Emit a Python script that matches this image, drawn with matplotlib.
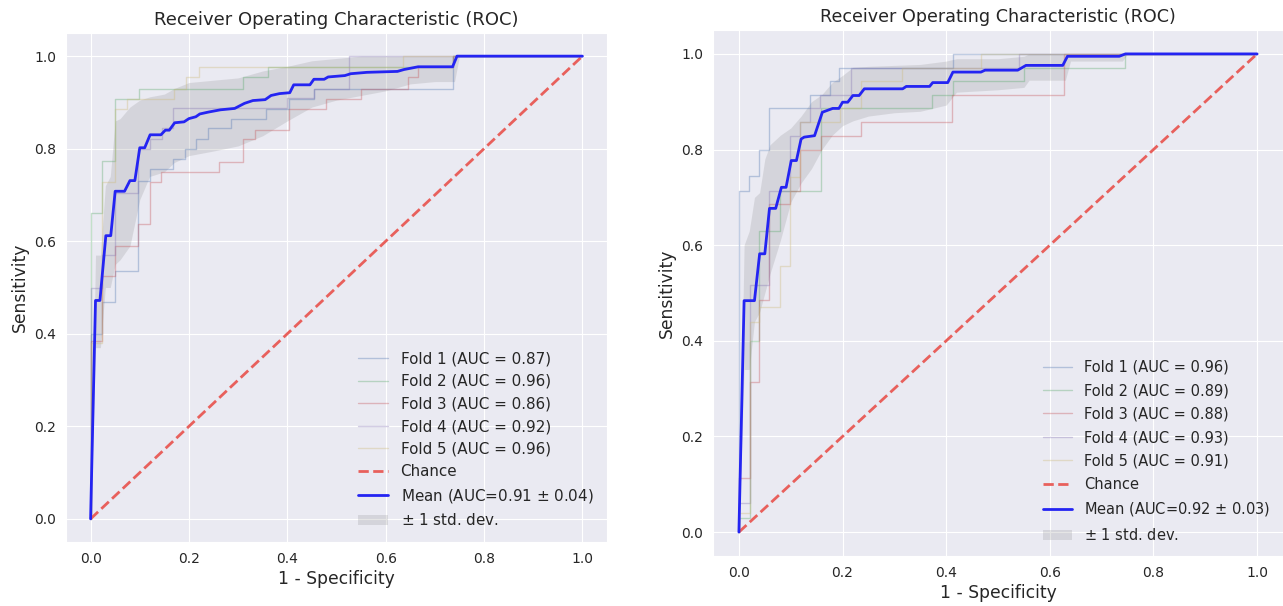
import numpy as np
import matplotlib
matplotlib.use("Agg")
import matplotlib.pyplot as plt
import seaborn as sns

# ---- left panel data ----
# fold curves: points at the top of each ROC jump (drawn as steps)
left_fold_fpr = [
    [0, 0, 0.023, 0.05, 0.096, 0.12, 0.167, 0.191, 0.215, 0.238, 0.286, 0.357, 0.404, 0.455, 0.736, 1.0],
    [0, 0, 0.023, 0.05, 0.098, 0.31, 0.36, 0.736, 1.0],
    [0, 0, 0.023, 0.05, 0.096, 0.12, 0.144, 0.262, 0.31, 0.335, 0.404, 0.478, 0.55, 0.645, 0.666, 0.736, 1.0],
    [0, 0, 0.023, 0.05, 0.096, 0.12, 0.145, 0.167, 0.40, 0.455, 0.525, 1.0],
    [0, 0, 0.023, 0.05, 0.075, 0.17, 0.195, 0.22, 0.635, 1.0],
]
left_fold_tpr = [
    [0, 0.40, 0.468, 0.535, 0.731, 0.756, 0.778, 0.80, 0.82, 0.844, 0.864, 0.885, 0.908, 0.93, 1.0, 1.0],
    [0, 0.66, 0.774, 0.908, 0.93, 0.955, 0.976, 1.0, 1.0],
    [0, 0.385, 0.525, 0.59, 0.637, 0.727, 0.749, 0.772, 0.82, 0.84, 0.885, 0.908, 0.93, 0.955, 0.976, 1.0, 1.0],
    [0, 0.50, 0.57, 0.705, 0.80, 0.82, 0.845, 0.887, 0.91, 0.93, 1.0, 1.0],
    [0, 0.38, 0.727, 0.885, 0.908, 0.93, 0.955, 0.976, 1.0, 1.0],
]
left_fold_auc = [0.87, 0.96, 0.86, 0.92, 0.96]
left_mean_fpr = [0, 0.010, 0.019, 0.031, 0.041, 0.05, 0.069, 0.08, 0.09, 0.10, 0.11, 0.121, 0.143, 0.152,
                 0.16, 0.171, 0.19, 0.2, 0.214, 0.222, 0.239, 0.264, 0.293, 0.313, 0.33, 0.355, 0.367, 0.384,
                 0.405, 0.413, 0.446, 0.454, 0.475, 0.483, 0.517, 0.529, 0.562, 0.624, 0.637, 0.666, 0.736,
                 0.745, 1.0]
left_mean_tpr = [0, 0.472, 0.472, 0.612, 0.612, 0.708, 0.708, 0.731, 0.731, 0.802, 0.802, 0.83, 0.83, 0.84,
                 0.84, 0.856, 0.858, 0.865, 0.869, 0.875, 0.879, 0.884, 0.887, 0.898, 0.904, 0.906, 0.915,
                 0.919, 0.921, 0.938, 0.938, 0.95, 0.95, 0.955, 0.958, 0.962, 0.965, 0.967, 0.971, 0.977,
                 0.977, 1.0, 1.0]
left_band_fpr = [0.0, 0.01, 0.02, 0.03, 0.04, 0.05, 0.06, 0.08, 0.1, 0.12, 0.15, 0.17, 0.2, 0.25, 0.3,
                 0.35, 0.4, 0.45, 0.5, 0.55, 0.6, 0.65, 0.7, 0.74, 0.75, 1.0]
left_band_upper = [0.0, 0.57, 0.57, 0.72, 0.74, 0.86, 0.865, 0.89, 0.905, 0.912, 0.918, 0.93, 0.943, 0.948,
                   0.953, 0.968, 0.978, 0.99, 0.995, 1.0, 1.0, 1.0, 1.0, 1.0, 1.0, 1.0]
left_band_lower = [0.0, 0.37, 0.37, 0.50, 0.50, 0.55, 0.56, 0.59, 0.69, 0.74, 0.75, 0.77, 0.785, 0.795,
                   0.806, 0.828, 0.86, 0.89, 0.905, 0.915, 0.925, 0.94, 0.945, 0.945, 1.0, 1.0]
left_mean_label = "Mean (AUC=0.91 $\\pm$ 0.04)"

# ---- right panel data ----
right_fold_fpr = [
    [0, 0, 0.019, 0.039, 0.058, 0.138, 0.175, 0.194, 0.413, 1.0],
    [0, 0, 0.021, 0.039, 0.079, 0.159, 0.373, 0.413, 0.55, 0.746, 1.0],
    [0, 0, 0.021, 0.039, 0.059, 0.098, 0.118, 0.159, 0.236, 0.412, 0.628, 1.0],
    [0, 0, 0.021, 0.059, 0.098, 0.118, 0.137, 0.157, 0.216, 0.54, 1.0],
    [0, 0, 0.021, 0.039, 0.079, 0.098, 0.118, 0.196, 0.236, 0.314, 0.467, 1.0],
]
right_fold_tpr = [
    [0, 0.714, 0.744, 0.80, 0.886, 0.914, 0.943, 0.971, 1.0, 1.0],
    [0, 0.03, 0.40, 0.63, 0.714, 0.886, 0.914, 0.943, 0.971, 1.0, 1.0],
    [0, 0.114, 0.314, 0.486, 0.686, 0.714, 0.80, 0.829, 0.857, 0.914, 1.0, 1.0],
    [0, 0.06, 0.516, 0.714, 0.829, 0.857, 0.886, 0.914, 0.971, 1.0, 1.0],
    [0, 0.04, 0.44, 0.471, 0.557, 0.743, 0.857, 0.886, 0.943, 0.971, 1.0, 1.0],
]
right_fold_auc = [0.96, 0.89, 0.88, 0.93, 0.91]
right_mean_fpr = [0, 0.010, 0.030, 0.040, 0.050, 0.059, 0.071, 0.082, 0.091, 0.101, 0.111, 0.120, 0.126,
                  0.146, 0.161, 0.181, 0.193, 0.200, 0.210, 0.220, 0.232, 0.242, 0.316, 0.323, 0.368, 0.374,
                  0.403, 0.413, 0.467, 0.475, 0.538, 0.554, 0.625, 0.634, 0.734, 0.746, 1.0]
right_mean_tpr = [0, 0.484, 0.484, 0.582, 0.582, 0.677, 0.677, 0.721, 0.721, 0.777, 0.777, 0.822, 0.826,
                  0.829, 0.878, 0.886, 0.886, 0.899, 0.899, 0.913, 0.913, 0.927, 0.927, 0.932, 0.932, 0.94,
                  0.94, 0.962, 0.962, 0.966, 0.966, 0.976, 0.976, 0.995, 0.995, 1.0, 1.0]
right_band_fpr = [0.0, 0.01, 0.02, 0.03, 0.04, 0.05, 0.06, 0.08, 0.1, 0.12, 0.14, 0.16, 0.18, 0.2, 0.22,
                  0.25, 0.3, 0.35, 0.4, 0.42, 0.5, 0.55, 0.56, 0.63, 0.64, 0.74, 0.75, 1.0]
right_band_upper = [0.0, 0.60, 0.63, 0.70, 0.71, 0.78, 0.81, 0.83, 0.845, 0.87, 0.90, 0.915, 0.94, 0.955,
                    0.972, 0.974, 0.976, 0.978, 0.985, 0.99, 0.99, 0.995, 1.0, 1.0, 1.0, 1.0, 1.0, 1.0]
right_band_lower = [0.0, 0.34, 0.34, 0.44, 0.46, 0.50, 0.54, 0.61, 0.69, 0.73, 0.76, 0.80, 0.83, 0.85,
                    0.86, 0.87, 0.877, 0.88, 0.893, 0.92, 0.925, 0.93, 0.945, 0.945, 0.985, 0.985, 1.0, 1.0]
right_mean_label = "Mean (AUC=0.92 $\\pm$ 0.03)"

fold_colors = ["#4C72B0", "#55A868", "#C44E52", "#8172B2", "#CCB974"]

sns.set_style("darkgrid")
plt.rcParams["font.family"] = ["DejaVu Sans"]


def plotRoc(ax, fold_fpr, fold_tpr, fold_auc, mean_fpr, mean_tpr, band_fpr, band_up, band_lo,
            mean_label, title_size, label_size, tick_size, legend_size, spacing):
    for i in range(len(fold_fpr)):
        ax.plot(fold_fpr[i], fold_tpr[i], drawstyle="steps-post", lw=1, alpha=0.35,
                color=fold_colors[i], label="Fold %d (AUC = %0.2f)" % (i + 1, fold_auc[i]))
    # chance diagonal
    ax.plot([0, 1], [0, 1], linestyle="--", lw=2, color="#E8605C", label="Chance")
    ax.plot(mean_fpr, mean_tpr, color="#2424F2", lw=2, label=mean_label)
    ax.fill_between(band_fpr, band_lo, band_up, color="grey", alpha=0.2, lw=0,
                    label="$\\pm$ 1 std. dev.")
    ax.set_xlim(-0.05, 1.05)
    ax.set_ylim(-0.05, 1.05)
    ax.set_xticks([0.0, 0.2, 0.4, 0.6, 0.8, 1.0])
    ax.set_yticks([0.0, 0.2, 0.4, 0.6, 0.8, 1.0])
    ax.tick_params(labelsize=tick_size, colors=".15")
    ax.set_xlabel("1 - Specificity", fontsize=label_size, color=".15", labelpad=3)
    ax.set_ylabel("Sensitivity", fontsize=label_size, color=".15")
    ax.set_title("Receiver Operating Characteristic (ROC)", fontsize=title_size, color=".15")
    ax.legend(loc="lower right", fontsize=legend_size, frameon=False, labelspacing=spacing)


W, H = 1283, 606
fig = plt.figure(figsize=(W / 100, H / 100), dpi=100)
ax1 = fig.add_axes([66 / W, (H - 542) / H, 541 / W, 509 / H])
ax2 = fig.add_axes([713 / W, (H - 556) / H, 570 / W, 526 / H])

plotRoc(ax1, left_fold_fpr, left_fold_tpr, left_fold_auc, left_mean_fpr, left_mean_tpr,
        left_band_fpr, left_band_upper, left_band_lower, left_mean_label, 13, 12.3, 10, 10.9, 0.5)
plotRoc(ax2, right_fold_fpr, right_fold_tpr, right_fold_auc, right_mean_fpr, right_mean_tpr,
        right_band_fpr, right_band_upper, right_band_lower, right_mean_label, 12.6, 12.3, 10, 10.5, 0.58)

fig.savefig("out.png", dpi=100)
